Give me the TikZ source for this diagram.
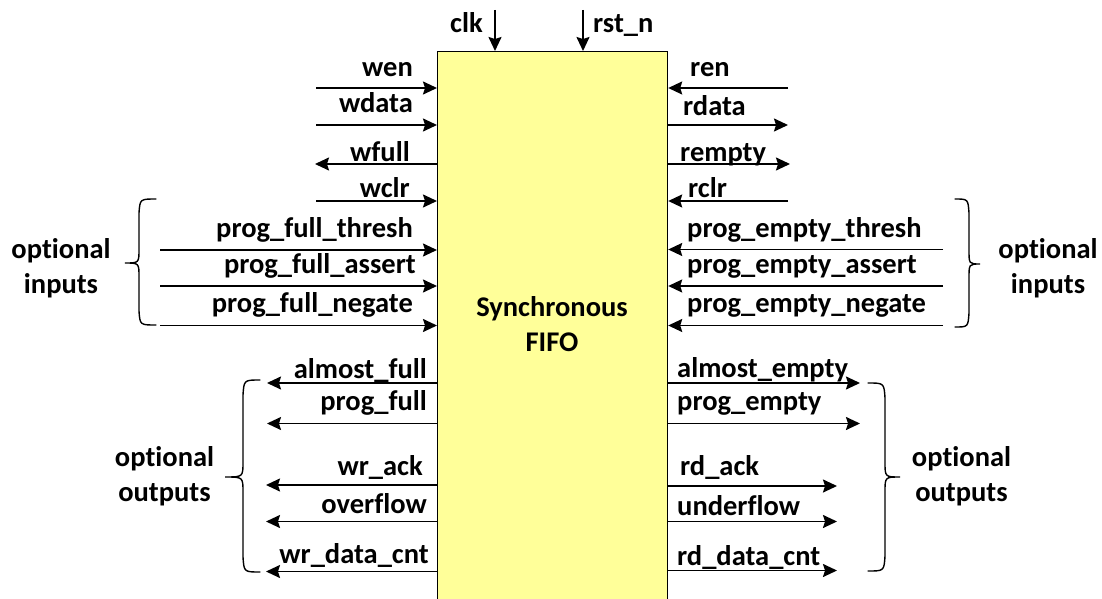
\documentclass[tikz,border=0pt]{standalone}
\usepackage{fontspec}
\setmainfont[Ligatures={NoCommon,NoContextual}]{Carlito}
\usetikzlibrary{arrows.meta}
\definecolor{fifoyellow}{RGB}{255,255,153}
\begin{document}
\begin{tikzpicture}[x=1pt,y=-1pt,
  font=\fontsize{28.5}{34}\selectfont\bfseries,
  sig/.style={line width=1.7pt,-{Stealth[length=14pt,width=13pt,inset=2pt]}},
  lblL/.style={anchor=base east,inner sep=0pt},
  lblR/.style={anchor=base west,inner sep=0pt},
  txt/.style={anchor=base,inner sep=0pt},
  bracestyle/.style={line width=1.4pt,line cap=round}]
\useasboundingbox[fill=white] (0,0) rectangle (1102,599);

% main block
\node[draw,line width=1.2pt,fill=fifoyellow,minimum width=230pt,minimum height=570pt,
      inner sep=0pt,anchor=north west] (fifo) at (437,51) {};
\node[txt] (t1) at (552,316.7) {Synchronous};
\node[txt] (t2) at (552,351.7) {FIFO};

% clock and reset
\coordinate (clk-s) at (495,10);
\draw[sig] (clk-s) -- (clk-s |- fifo.north);
\node[lblL] (clk) at (483,33) {clk};
\coordinate (rst-s) at (583,10);
\draw[sig] (rst-s) -- (rst-s |- fifo.north);
\node[lblR] (rst) at (593,33) {rst\_n};

% left inputs
\foreach \n/\xo/\yy/\lx/\ly/\t in {
  wen/316/88/413/77/wen,
  wdata/316/125/413/113/wdata,
  wclr/316/201/410/197/wclr,
  pft/160/250/413/237/prog\_full\_thresh,
  pfa/160/286/416/273/prog\_full\_assert,
  pfn/160/325.5/413/312/prog\_full\_negate}{
  \coordinate (\n-o) at (\xo,\yy);
  \draw[sig] (\n-o) -- (\n-o -| fifo.west);
  \node[lblL] (\n-l) at (\lx,\ly) {\t};
}
% left outputs
\foreach \n/\xo/\yy/\lx/\ly/\t in {
  wfull/315/164/410/161/wfull,
  af/267/383/427/378/almost\_full,
  pf/267/423.5/427/410/prog\_full,
  wa/266/485/423/475/wr\_ack,
  ov/266/521.5/427/513/overflow,
  wdc/266/571.5/429/563/wr\_data\_cnt}{
  \coordinate (\n-o) at (\xo,\yy);
  \draw[sig] (\n-o -| fifo.west) -- (\n-o);
  \node[lblL] (\n-l) at (\lx,\ly) {\t};
}
% right inputs
\foreach \n/\xo/\yy/\lx/\ly/\t in {
  ren/788/88/690/77/ren,
  rclr/788/201/688/197/rclr,
  pet/943/249.5/687/237/prog\_empty\_thresh,
  pea/943/286/687/273/prog\_empty\_assert,
  pen/943/325.5/687/312/prog\_empty\_negate}{
  \coordinate (\n-o) at (\xo,\yy);
  \draw[sig] (\n-o) -- (\n-o -| fifo.east);
  \node[lblR] (\n-l) at (\lx,\ly) {\t};
}
% right outputs
\foreach \n/\xo/\yy/\lx/\ly/\t in {
  rdata/788/125/683/116/rdata,
  rempty/790/164/680/161/rempty,
  ae/860/383/677/377/almost\_empty,
  pe/860/423.5/677/410/prog\_empty,
  ra/837/486/680/475/rd\_ack,
  uf/837/521.5/677/515/underflow,
  rdc/837/570.5/677/565/rd\_data\_cnt}{
  \coordinate (\n-o) at (\xo,\yy);
  \draw[sig] (\n-o -| fifo.east) -- (\n-o);
  \node[lblR] (\n-l) at (\lx,\ly) {\t};
}

% braces
\draw[bracestyle] (156,199) .. controls (140,199) .. (139,213) -- (139,249)
  .. controls (139,263) .. (125,263) .. controls (139,263) .. (139,277) -- (139,311)
  .. controls (140,325) .. (156,325);
\draw[bracestyle] (260,380) .. controls (244,380) .. (243,395) -- (243,462)
  .. controls (243,477) .. (225,477) .. controls (243,477) .. (243,492) -- (243,557)
  .. controls (244,572) .. (260,572);
\draw[bracestyle] (955,199) .. controls (968,199) .. (969,213) -- (969,250)
  .. controls (969,264) .. (980,264) .. controls (969,264) .. (969,278) -- (969,313)
  .. controls (968,327) .. (955,327);
\draw[bracestyle] (868,383) .. controls (884,383) .. (885,398) -- (885,462)
  .. controls (885,477) .. (900,477) .. controls (885,477) .. (885,492) -- (885,556)
  .. controls (884,571) .. (868,571);

% group labels
\node[txt] (oi1) at (61,258.3) {optional};
\node[txt] (oi2) at (61,293.3) {inputs};
\node[txt] (oi3) at (1048,258.3) {optional};
\node[txt] (oi4) at (1048,293.3) {inputs};
\node[txt] (oo1) at (164.5,466.7) {optional};
\node[txt] (oo2) at (164.5,501.7) {outputs};
\node[txt] (oo3) at (961.5,466.7) {optional};
\node[txt] (oo4) at (961.5,501.7) {outputs};
\end{tikzpicture}
\end{document}
